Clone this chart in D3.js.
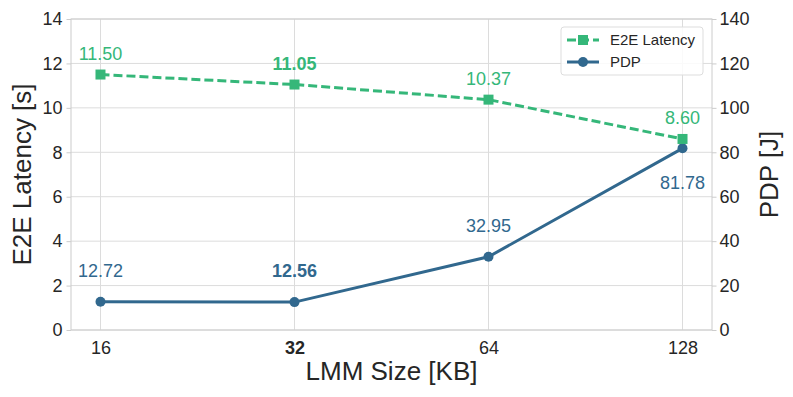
<!DOCTYPE html>
<html>
<head>
<meta charset="utf-8">
<script src="https://cdn.jsdelivr.net/npm/d3@7"></script>
<style>
  body { margin: 0; background: #fff; }
  text { font-family: "Liberation Sans", Arial, sans-serif; fill: #262626; }
</style>
</head>
<body>
<div id="chart"></div>
<script>
const sizes = ["16", "32", "64", "128"]
const latency = [11.50, 11.05, 10.37, 8.60]
const pdp = [12.72, 12.56, 32.95, 81.78]
const leftTicks = [0, 2, 4, 6, 8, 10, 12, 14]
const rightTicks = [0, 20, 40, 60, 80, 100, 120, 140]
const boldSize = "32"

const green = "#35b779"
const blue = "#31688e"

const width = 793, height = 397
const margin = { top: 19, right: 81, bottom: 67, left: 71 }

const svg = d3.select("#chart").append("svg")
    .attr("width", width)
    .attr("height", height)

const x = d3.scalePoint()
    .domain(sizes)
    .range([margin.left, width - margin.right])
    .padding(0.152)

const yL = d3.scaleLinear().domain([0, 14]).range([height - margin.bottom, margin.top])
const yR = d3.scaleLinear().domain([0, 140]).range([height - margin.bottom, margin.top])

// grid
svg.append("g")
    .selectAll("line")
    .data(leftTicks)
    .enter().append("line")
    .attr("x1", margin.left).attr("x2", width - margin.right)
    .attr("y1", d => yL(d)).attr("y2", d => yL(d))
    .attr("stroke", "#dcdcdc").attr("stroke-width", 1)

svg.append("g")
    .selectAll("line")
    .data(sizes)
    .enter().append("line")
    .attr("x1", d => x(d)).attr("x2", d => x(d))
    .attr("y1", margin.top).attr("y2", height - margin.bottom)
    .attr("stroke", "#dcdcdc").attr("stroke-width", 1)

// frame
svg.append("rect")
    .attr("x", margin.left).attr("y", margin.top)
    .attr("width", width - margin.left - margin.right)
    .attr("height", height - margin.top - margin.bottom)
    .attr("fill", "none").attr("stroke", "#cccccc").attr("stroke-width", 1)

// axes
const axL = svg.append("g")
    .attr("transform", `translate(${margin.left},0)`)
    .call(d3.axisLeft(yL).tickValues(leftTicks).tickSize(4.5).tickPadding(4))
const axR = svg.append("g")
    .attr("transform", `translate(${width - margin.right},0)`)
    .call(d3.axisRight(yR).tickValues(rightTicks).tickSize(4.5).tickPadding(3))
const axB = svg.append("g")
    .attr("transform", `translate(0,${height - margin.bottom})`)
    .call(d3.axisBottom(x).tickSize(0).tickPadding(11))

for (const ax of [axL, axR, axB]) {
    ax.select(".domain").remove()
    ax.selectAll("line").attr("stroke", "#cccccc")
    ax.selectAll("text").style("font-size", "18px").attr("fill", "#262626")
}
axB.selectAll("text").style("font-weight", d => d == boldSize ? "bold" : "normal")

// axis titles
svg.append("text")
    .attr("transform", `translate(31,${(margin.top + height - margin.bottom) / 2}) rotate(-90)`)
    .attr("text-anchor", "middle")
    .style("font-size", "26px")
    .text("E2E Latency [s]")

svg.append("text")
    .attr("transform", `translate(778,${(margin.top + height - margin.bottom) / 2}) rotate(-90)`)
    .attr("text-anchor", "middle")
    .style("font-size", "26px")
    .text("PDP [J]")

svg.append("text")
    .attr("x", (margin.left + width - margin.right) / 2)
    .attr("y", 380)
    .attr("text-anchor", "middle")
    .style("font-size", "26px")
    .text("LMM Size [KB]")

// lines
const latLine = d3.line().x((d, i) => x(sizes[i])).y(d => yL(d))
const pdpLine = d3.line().x((d, i) => x(sizes[i])).y(d => yR(d))

svg.append("path")
    .datum(pdp)
    .attr("d", pdpLine)
    .attr("fill", "none").attr("stroke", blue).attr("stroke-width", 3)

svg.append("g")
    .selectAll("circle")
    .data(pdp)
    .enter().append("circle")
    .attr("cx", (d, i) => x(sizes[i]))
    .attr("cy", d => yR(d))
    .attr("r", 5)
    .attr("fill", blue)

svg.append("path")
    .datum(latency)
    .attr("d", latLine)
    .attr("fill", "none").attr("stroke", green).attr("stroke-width", 3)
    .attr("stroke-dasharray", "9,4")

svg.append("g")
    .selectAll("rect")
    .data(latency)
    .enter().append("rect")
    .attr("x", (d, i) => x(sizes[i]) - 5)
    .attr("y", d => yL(d) - 5)
    .attr("width", 10).attr("height", 10)
    .attr("fill", green)

// value labels
svg.append("g")
    .selectAll("text")
    .data(latency)
    .enter().append("text")
    .attr("x", (d, i) => x(sizes[i]))
    .attr("y", d => yL(d) - 15)
    .attr("text-anchor", "middle")
    .style("font-size", "18px")
    .style("font-weight", (d, i) => sizes[i] == boldSize ? "bold" : "normal")
    .style("fill", green)
    .text(d => d.toFixed(2))

svg.append("g")
    .selectAll("text")
    .data(pdp)
    .enter().append("text")
    .attr("x", (d, i) => x(sizes[i]))
    .attr("y", (d, i) => i == pdp.length - 1 ? yR(d) + 41 : yR(d) - 25)
    .attr("text-anchor", "middle")
    .style("font-size", "18px")
    .style("font-weight", (d, i) => sizes[i] == boldSize ? "bold" : "normal")
    .style("fill", blue)
    .text(d => d.toFixed(2))

// legend
const lg = svg.append("g").attr("transform", "translate(561,27)")
lg.append("rect")
    .attr("width", 142).attr("height", 48)
    .attr("rx", 3)
    .attr("fill", "#fff").attr("fill-opacity", 0.85)
    .attr("stroke", "#dddddd")

const items = [
    { name: "E2E Latency", color: green, dash: "9,4", marker: "square" },
    { name: "PDP", color: blue, dash: null, marker: "circle" }
]
items.forEach((it, i) => {
    const cy = 13 + i * 22
    lg.append("line")
        .attr("x1", 6).attr("x2", 38)
        .attr("y1", cy).attr("y2", cy)
        .attr("stroke", it.color).attr("stroke-width", 3)
        .attr("stroke-dasharray", it.dash)
    if (it.marker == "square") {
        lg.append("rect").attr("x", 17).attr("y", cy - 5)
            .attr("width", 10).attr("height", 10).attr("fill", it.color)
    } else {
        lg.append("circle").attr("cx", 22).attr("cy", cy).attr("r", 5).attr("fill", it.color)
    }
    lg.append("text")
        .attr("x", 49).attr("y", cy + 5)
        .style("font-size", "15px")
        .text(it.name)
})
</script>
</body>
</html>
